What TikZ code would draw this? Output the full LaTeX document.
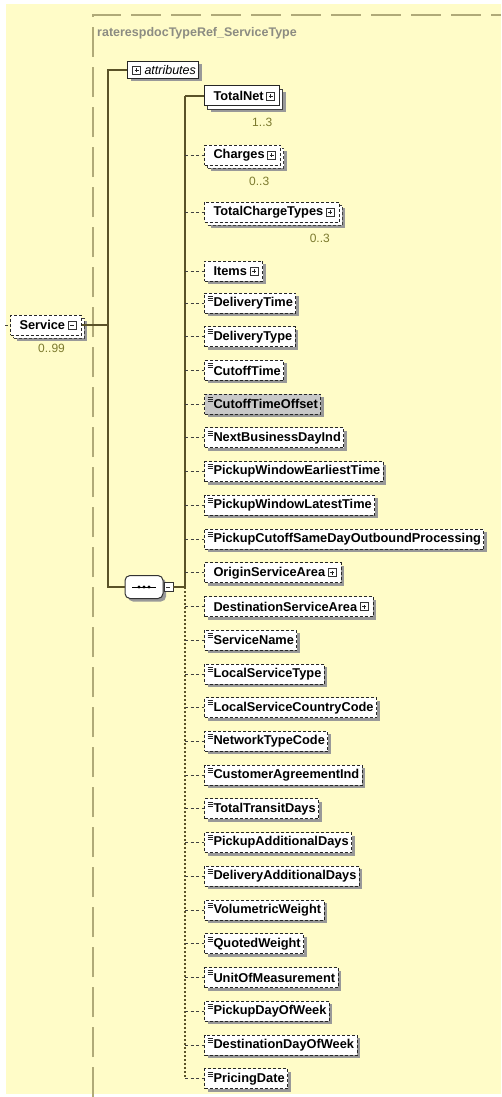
\documentclass[tikz,border=0pt]{standalone}
\usepackage{fontspec}
\setmainfont{Liberation Sans}
\usetikzlibrary{shadows,positioning}
\definecolor{diagbg}{HTML}{FFFCC8}
\definecolor{framegray}{HTML}{B0AA78}
\definecolor{treeline}{HTML}{5A5228}
\definecolor{occolive}{HTML}{7C7A2E}
\definecolor{typegray}{HTML}{8C8C82}
\definecolor{offgray}{HTML}{C8C8C8}
\tikzset{
  plusbtn/.pic={
    \draw[solid, fill=white, line width=.8pt, draw=black!80] (-4pt,-4pt) rectangle (4pt,4pt);
    \draw[solid, line width=.8pt] (-2pt,0pt) -- (2pt,0pt) (0pt,-2pt) -- (0pt,2pt);
  },
  minusbtn/.pic={
    \draw[solid, fill=white, line width=.8pt, draw=black!80] (-4pt,-4pt) rectangle (4pt,4pt);
    \draw[solid, line width=.8pt] (-2pt,0pt) -- (2pt,0pt);
  },
  simpleicon/.pic={
    \draw[solid, line width=.6pt] (0pt,0pt) -- (5pt,0pt) (0pt,-2pt) -- (5pt,-2pt) (0pt,-4pt) -- (5pt,-4pt);
  },
  elembase/.style={draw=black!85, fill=white, line width=1pt, anchor=west,
    font=\fontsize{12.8}{15}\selectfont\bfseries, minimum height=20pt,
    inner xsep=3pt, inner ysep=0pt, execute at begin node={\hspace{6pt}}},
  shadowed/.style={drop shadow={shadow xshift=3pt, shadow yshift=-3pt, fill=black!40, opacity=1}},
  stacked/.style={
    general shadow={shadow xshift=6pt, shadow yshift=-6pt, fill=black!40},
    general shadow={shadow xshift=3pt, shadow yshift=-3pt, fill=white, draw=black!75, line width=.8pt}},
  opt/.style={dash pattern=on 3pt off 2pt},
  simple/.style={path picture={\pic at ([shift={(3pt,-3pt)}]path picture bounding box.north west) {simpleicon};}},
  complex/.style={execute at end node={\hspace{13pt}},
    path picture={\pic at ([xshift=-9pt]path picture bounding box.east) {plusbtn};}},
  expanded/.style={execute at end node={\hspace{13pt}},
    path picture={\pic at ([xshift=-9pt]path picture bounding box.east) {minusbtn};}},
  optsimple/.style={elembase, shadowed, opt, simple},
  optcomplex/.style={elembase, shadowed, opt, complex},
  optgray/.style={optsimple, fill=offgray},
  attrbox/.style={draw=black!85, fill=white, line width=1pt, anchor=west,
    font=\fontsize{12.5}{15}\selectfont\itshape, minimum height=17pt,
    inner xsep=3pt, inner ysep=0pt, execute at begin node={\hspace{14pt}}, shadowed,
    path picture={\pic at ([xshift=9pt]path picture bounding box.west) {plusbtn};}},
  seqbox/.style={draw=black!80, fill=white, line width=1pt, rounded corners=5pt,
    minimum width=38pt, minimum height=23pt, inner sep=0pt, shadowed,
    path picture={
      \draw[line width=1pt, draw=black] ([xshift=7pt]path picture bounding box.west) -- ([xshift=-7pt]path picture bounding box.east);
      \foreach \dx in {-5,0,5} \fill[black] ([xshift=\dx pt]path picture bounding box.center) circle (1.6pt);
    }},
  btnbox/.style={draw=black!80, fill=white, line width=.8pt, minimum size=9pt, inner sep=0pt,
    path picture={\draw[line width=.8pt] ([xshift=-2pt]path picture bounding box.center) -- ([xshift=2pt]path picture bounding box.center);}},
  occ/.style={text=occolive, font=\fontsize{12}{14}\selectfont, inner sep=0pt},
  typename/.style={text=typegray, font=\fontsize{12.5}{15}\selectfont\bfseries, anchor=west, inner sep=0pt},
  typeframe/.style={draw=framegray, line width=1.5pt, dash pattern=on 30pt off 10pt},
  treeconn/.style={draw=treeline, line width=1.8pt},
  dotbar/.style={draw=treeline, line width=1.5pt, dash pattern=on 1.5pt off 2.5pt},
  optconn/.style={draw=black!75, line width=1pt, dash pattern=on 3pt off 2.5pt},
}
\begin{document}
\begin{tikzpicture}[x=1pt, y=-1pt]
  \useasboundingbox (0,0) rectangle (501,1097);
  \fill[diagbg] (6,4) rectangle (501,1094);
  \draw[typeframe] (93,1097) -- (93,15) -- (501,15);
  \node[typename] (tname) at (97,33) {raterespdocTypeRef\_ServiceType};

  \coordinate (svcin) at (5,325);
  \coordinate (trunk) at (108,0);
  \coordinate (bar) at (185,0);

  \node[elembase, stacked, opt, expanded] (Service) at (10,325) {Service};
  \node[occ] (Service-occ) at ([xshift=-30pt,yshift=-13pt]Service.south east) {0..99};
  \node[attrbox] (attributes) at (127,70) {attributes};
  \node[seqbox] (seq) at (144,587) {};
  \node[btnbox, right=0pt of seq] (seqbtn) {};

  \node[elembase, stacked, complex] (TotalNet) at (204,96) {TotalNet};
  \node[occ] (TotalNet-occ) at ([xshift=-18pt,yshift=-16pt]TotalNet.south east) {1..3};
  \node[elembase, stacked, opt, complex] (Charges) at (204,155) {Charges};
  \node[occ] (Charges-occ) at ([xshift=-22pt,yshift=-16pt]Charges.south east) {0..3};
  \node[elembase, stacked, opt, complex] (TotalChargeTypes) at (204,212) {TotalChargeTypes};
  \node[occ] (TotalChargeTypes-occ) at ([xshift=-20pt,yshift=-16pt]TotalChargeTypes.south east) {0..3};
  \node[optcomplex] (Items) at (204,271) {Items};

  \foreach \name/\kind [count=\i] in {DeliveryTime/optsimple, DeliveryType/optsimple,
      CutoffTime/optsimple, CutoffTimeOffset/optgray, NextBusinessDayInd/optsimple,
      PickupWindowEarliestTime/optsimple, PickupWindowLatestTime/optsimple,
      PickupCutoffSameDayOutboundProcessing/optsimple, OriginServiceArea/optcomplex,
      DestinationServiceArea/optcomplex, ServiceName/optsimple, LocalServiceType/optsimple,
      LocalServiceCountryCode/optsimple, NetworkTypeCode/optsimple,
      CustomerAgreementInd/optsimple, TotalTransitDays/optsimple,
      PickupAdditionalDays/optsimple, DeliveryAdditionalDays/optsimple,
      VolumetricWeight/optsimple, QuotedWeight/optsimple, UnitOfMeasurement/optsimple,
      PickupDayOfWeek/optsimple, DestinationDayOfWeek/optsimple, PricingDate/optsimple}
    \node[\kind] (\name) at (204,{303+33.73*(\i-1)}) {\name};

  \draw[optconn] (svcin) -- (Service.west);
  \draw[treeconn] (Service.east) -- (Service.east -| trunk);
  \draw[treeconn] (attributes.west) -- (attributes.west -| trunk) -- (seq.west -| trunk) -- (seq.west);
  \draw[treeconn] (seqbtn.east) -- (seqbtn.east -| bar);
  \draw[treeconn] (TotalNet.west -| bar) -- (seqbtn.east -| bar);
  \draw[dotbar] (seqbtn.east -| bar) -- (PricingDate.west -| bar);
  \draw[treeconn] (TotalNet.west -| bar) -- (TotalNet.west);
  \foreach \name in {Charges, TotalChargeTypes, Items, DeliveryTime, DeliveryType, CutoffTime,
      CutoffTimeOffset, NextBusinessDayInd, PickupWindowEarliestTime, PickupWindowLatestTime,
      PickupCutoffSameDayOutboundProcessing, OriginServiceArea, DestinationServiceArea,
      ServiceName, LocalServiceType, LocalServiceCountryCode, NetworkTypeCode,
      CustomerAgreementInd, TotalTransitDays, PickupAdditionalDays, DeliveryAdditionalDays,
      VolumetricWeight, QuotedWeight, UnitOfMeasurement, PickupDayOfWeek,
      DestinationDayOfWeek, PricingDate}
    \draw[optconn] (\name.west -| bar) -- (\name.west);
\end{tikzpicture}
\end{document}
